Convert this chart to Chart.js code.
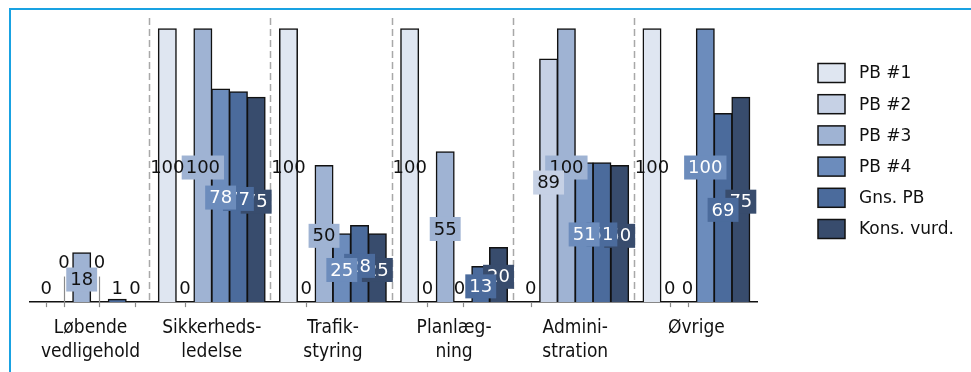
<!DOCTYPE html>
<html>
<head>
<meta charset="utf-8">
<script src="https://cdn.jsdelivr.net/npm/chart.js@4/dist/chart.umd.min.js"></script>
<style>
  body { margin: 0; background: #fff; }
  #wrap { position: relative; width: 971px; height: 372px; overflow: hidden; }
  #chart { position: absolute; left: 0; top: 0; }
  #frame {
    position: absolute; left: 9px; top: 8px; right: 0; bottom: 0;
    border-left: 2px solid #19a2e2; border-top: 2px solid #19a2e2;
    pointer-events: none;
  }
</style>
</head>
<body>
<div id="wrap">
  <canvas id="chart" width="971" height="372"></canvas>
  <div id="frame"></div>
</div>
<script>
// categories (multi-line tick labels)
const categories = [
  ["Løbende", "vedligehold"],
  ["Sikkerheds-", "ledelse"],
  ["Trafik-", "styring"],
  ["Planlæg-", "ning"],
  ["Admini-", "stration"],
  ["Øvrige"]
];

const seriesNames = ["PB #1", "PB #2", "PB #3", "PB #4", "Gns. PB", "Kons. vurd."];

const pb1  = [0, 100, 100, 100, 0, 100];
const pb2  = [0, 0, 0, 0, 89, 0];
const pb3  = [18, 100, 50, 55, 100, 0];
const pb4  = [0, 78, 25, 0, 51, 100];
const gns  = [1, 77, 28, 13, 51, 69];
const kons = [0, 75, 25, 20, 50, 75];

const colors    = ["#dfe6f1", "#c6d1e5", "#9fb3d3", "#6c8cbc", "#4b6b9c", "#384c6d"];
const textCols  = ["#111", "#111", "#111", "#fff", "#fff", "#fff"];
const boxCols   = [null, "#c6d1e5", "#9fb3d3", "#6c8cbc", "#4b6b9c", "#384c6d"];

const FONT = '"DejaVu Sans", Verdana, sans-serif';
const FONT_COND = '"DejaVu Sans Condensed", "DejaVu Sans", sans-serif';

// dashed separators between categories
const separators = {
  id: "separators",
  beforeDatasetsDraw(chart) {
    const { ctx, chartArea } = chart;
    const x = chart.scales.x;
    const base = chart.scales.y.getPixelForValue(0);
    ctx.save();
    ctx.strokeStyle = "#a8a8a8";
    ctx.lineWidth = 1.5;
    ctx.setLineDash([7, 4]);
    for (let i = 0; i < categories.length - 1; i++) {
      const px = Math.round((x.getPixelForTick(i) + x.getPixelForTick(i + 1)) / 2) - 1.5;
      ctx.beginPath();
      ctx.moveTo(px, chartArea.top);
      ctx.lineTo(px, base);
      ctx.stroke();
    }
    ctx.restore();
  }
};

// value labels in the middle of bars, boxed in the bar colour
const barLabels = {
  id: "barLabels",
  afterDatasetsDraw(chart) {
    const ctx = chart.ctx;
    const base = chart.scales.y.getPixelForValue(0);
    ctx.save();
    ctx.font = "18px " + FONT;
    ctx.textAlign = "center";
    ctx.textBaseline = "middle";

    const items = [];
    chart.data.datasets.forEach((ds, di) => {
      chart.getDatasetMeta(di).data.forEach((bar, i) => {
        const v = ds.data[i];
        const text = String(Math.round(v));
        const w = ctx.measureText(text).width + 8;
        const y = Math.min((bar.y + bar.base) / 2 + 2, base - 14);
        items.push({ di, i, v, text, x: bar.x, y, w, h: 24, barH: bar.base - bar.y, moved: false });
      });
    });

    // tiny bars get plain labels like zeros
    const boxed = items.filter(it => it.barH >= 10);
    const plain = items.filter(it => it.barH < 10);

    // push plain labels away from boxed labels they would collide with
    plain.forEach(z => {
      boxed.filter(b => b.i === z.i).forEach(b => {
        const ox = Math.abs(z.x - b.x) < (z.w + b.w) / 2;
        const oy = Math.abs(z.y - b.y) < (z.h + b.h) / 2;
        if (ox && oy) {
          if (b.barH >= 45) {
            z.y = b.y - b.h / 2 - 5;
            z.moved = true;
          } else {
            const d = (z.w + b.w) / 2 - 4;
            z.x = z.x < b.x ? b.x - d : b.x + d;
          }
        }
      });
    });

    // small grey leader ticks for zero bars
    ctx.strokeStyle = "#8a8a8a";
    ctx.lineWidth = 1.2;
    plain.filter(z => z.v === 0).forEach(z => {
      const bx = chart.getDatasetMeta(z.di).data[z.i].x;
      ctx.beginPath();
      ctx.moveTo(Math.round(bx) + 0.5, z.moved ? z.y + 14 : base);
      ctx.lineTo(Math.round(bx) + 0.5, base + 5);
      ctx.stroke();
    });

    // later series first, so earlier ones sit on top
    boxed.sort((a, b) => b.di - a.di).forEach(b => {
      if (boxCols[b.di]) {
        ctx.fillStyle = boxCols[b.di];
        ctx.fillRect(b.x - b.w / 2, b.y - b.h / 2, b.w, b.h);
      }
      ctx.fillStyle = textCols[b.di];
      ctx.fillText(b.text, b.x, b.y + 1);
    });

    ctx.fillStyle = "#111";
    plain.forEach(z => ctx.fillText(z.text, z.x, z.y + 1));
    ctx.restore();
  }
};

// legend drawn at the right side
const sideLegend = {
  id: "sideLegend",
  afterDraw(chart) {
    const ctx = chart.ctx;
    ctx.save();
    ctx.font = "17px " + FONT;
    ctx.textBaseline = "middle";
    ctx.textAlign = "left";
    chart.data.datasets.forEach((ds, i) => {
      const y = 73 + i * 31.2;
      ctx.fillStyle = ds.backgroundColor;
      ctx.fillRect(818, y - 9.5, 27, 19);
      ctx.strokeStyle = "#111";
      ctx.lineWidth = 1.5;
      ctx.strokeRect(818, y - 9.5, 27, 19);
      ctx.fillStyle = "#111";
      ctx.fillText(ds.label, 859, y + 1);
    });
    ctx.restore();
  }
};

const allSeries = [pb1, pb2, pb3, pb4, gns, kons];

new Chart(document.getElementById("chart"), {
  type: "bar",
  data: {
    labels: categories,
    datasets: allSeries.map((d, i) => ({
      label: seriesNames[i],
      data: d,
      backgroundColor: colors[i],
      borderColor: "#111",
      borderWidth: 1.5,
      borderSkipped: "bottom",
      inflateAmount: 0.6,
      categoryPercentage: 0.88,
      barPercentage: 1.0
    }))
  },
  options: {
    responsive: false,
    animation: false,
    layout: { padding: { left: 30, right: 214, top: 18, bottom: -6 } },
    plugins: {
      legend: { display: false },
      tooltip: { enabled: false }
    },
    scales: {
      x: {
        grid: { display: false, drawTicks: false },
        border: { display: true, color: "#111", width: 1.5 },
        ticks: {
          padding: 14,
          color: "#111",
          font: { family: FONT_COND, size: 19, lineHeight: 1.26 },
          maxRotation: 0,
          autoSkip: false
        }
      },
      y: {
        display: false,
        min: 0,
        max: 104
      }
    }
  },
  plugins: [separators, barLabels, sideLegend]
});
</script>
</body>
</html>
